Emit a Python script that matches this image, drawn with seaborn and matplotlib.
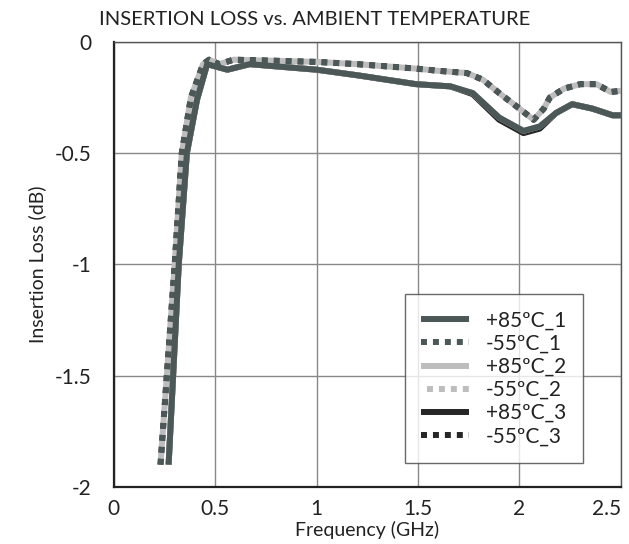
import matplotlib
matplotlib.use("Agg")
import matplotlib.pyplot as plt
import seaborn as sns
import pandas as pd

sns.set_style("white")
plt.rcParams['font.family'] = ['Lato', 'DejaVu Sans']

# Frequency grids (GHz)
freq_hot = [0.27, 0.32, 0.36, 0.41, 0.46, 0.50, 0.56, 0.67, 0.80, 1.00, 1.20, 1.49,
            1.66, 1.77, 1.90, 2.02, 2.10, 2.18, 2.26, 2.36, 2.46, 2.50]
freq_cold = [0.23, 0.30, 0.335, 0.38, 0.44, 0.47, 0.52, 0.59, 0.80, 1.00, 1.20, 1.49,
             1.60, 1.74, 1.82, 1.90, 2.00, 2.07, 2.12, 2.15, 2.22, 2.30, 2.38, 2.45, 2.50]

# Insertion loss (dB)
hot_1 = [-1.90, -1.00, -0.50, -0.26, -0.10, -0.11, -0.125, -0.10, -0.11, -0.125, -0.15, -0.19,
         -0.20, -0.23, -0.34, -0.40, -0.38, -0.32, -0.28, -0.30, -0.33, -0.33]
hot_2 = [-1.90, -1.00, -0.50, -0.26, -0.10, -0.11, -0.125, -0.10, -0.11, -0.125, -0.15, -0.19,
         -0.20, -0.23, -0.34, -0.40, -0.38, -0.32, -0.28, -0.30, -0.33, -0.33]
hot_3 = [-1.90, -1.00, -0.50, -0.26, -0.10, -0.11, -0.125, -0.10, -0.11, -0.125, -0.15, -0.19,
         -0.20, -0.235, -0.35, -0.41, -0.39, -0.32, -0.28, -0.30, -0.33, -0.33]
cold_1 = [-1.90, -1.00, -0.50, -0.25, -0.10, -0.08, -0.10, -0.08, -0.085, -0.09, -0.10, -0.12,
          -0.13, -0.14, -0.17, -0.23, -0.30, -0.35, -0.30, -0.25, -0.21, -0.19, -0.19, -0.225, -0.22]
cold_2 = [-1.90, -1.00, -0.50, -0.25, -0.10, -0.08, -0.10, -0.08, -0.085, -0.09, -0.10, -0.12,
          -0.13, -0.14, -0.17, -0.23, -0.30, -0.35, -0.30, -0.25, -0.21, -0.19, -0.19, -0.225, -0.22]
cold_3 = [-1.90, -1.00, -0.50, -0.25, -0.10, -0.08, -0.10, -0.08, -0.085, -0.09, -0.10, -0.12,
          -0.13, -0.14, -0.17, -0.23, -0.30, -0.35, -0.30, -0.25, -0.21, -0.19, -0.19, -0.225, -0.22]

labels = ['+85ºC_1', '-55ºC_1', '+85ºC_2', '-55ºC_2', '+85ºC_3', '-55ºC_3']
series = [(freq_hot, hot_1), (freq_cold, cold_1), (freq_hot, hot_2),
          (freq_cold, cold_2), (freq_hot, hot_3), (freq_cold, cold_3)]
colors = ['#4c5858', '#4c5858', '#bdbdbd', '#bdbdbd', '#262626', '#262626']
dashed = [False, True, False, True, False, True]
x_ticks = [0, 0.5, 1, 1.5, 2, 2.5]
x_ticklabels = ['0', '0.5', '1', '1.5', '2', '2.5']
y_ticks = [0, -0.5, -1, -1.5, -2]
y_ticklabels = ['0', '-0.5', '-1', '-1.5', '-2']

fig = plt.figure(figsize=(6.29, 5.44), dpi=100)
ax = fig.add_axes([0.181, 0.105, 0.806, 0.818])

# draw order: 3, 2, 1 so that series 1 is on top
order = [4, 5, 2, 3, 0, 1]
lines = {}
for i in order:
    xs, ys = series[i]
    df = pd.DataFrame({'f': xs, 'il': ys})
    sns.lineplot(data=df, x='f', y='il', ax=ax, color=colors[i], lw=4.3,
                 estimator=None, sort=False, label=labels[i])
    ln = ax.get_lines()[-1]
    ln.set_solid_capstyle('butt')
    if dashed[i]:
        off = {1: 0.0, 3: 1.0, 5: 0.0}[i]
        ln.set_linestyle((off, (1.0, 1.0)))
        ln.set_dash_capstyle('butt')
    lines[i] = ln

ax.set_xlim(0, 2.5)
ax.set_ylim(-2, 0)
ax.set_xticks(x_ticks)
ax.set_xticklabels(x_ticklabels, fontsize=15, color='#222222')
ax.set_yticks(y_ticks)
ax.set_yticklabels(y_ticklabels, fontsize=15, color='#222222')
ax.tick_params(axis='x', length=0, pad=9)
ax.tick_params(axis='y', length=0, pad=16)
xt = ax.get_xticklabels()
xt[-1].set_ha('right')
xt[-1].set_x(2.55)
ax.grid(True, color='#888888', lw=1.0)
for s in ['top', 'right']:
    ax.spines[s].set_color('#555555')
    ax.spines[s].set_linewidth(1.0)
for s in ['left', 'bottom']:
    ax.spines[s].set_color('#222222')
    ax.spines[s].set_linewidth(1.6)

ax.set_xlabel('Frequency (GHz)', fontsize=14, color='#222222', labelpad=1)
ax.set_ylabel('Insertion Loss (dB)', fontsize=14, color='#222222', labelpad=6)
fig.text(0.5, 0.965, 'INSERTION LOSS vs. AMBIENT TEMPERATURE', ha='center', va='center',
         fontsize=14.5, color='#222222')

handles = [lines[i] for i in range(6)]
leg = ax.legend(handles, labels, loc='lower right', bbox_to_anchor=(0.925, 0.054),
                borderaxespad=0,
                fontsize=15, frameon=True, fancybox=False, edgecolor='#444444',
                handlelength=2.3, labelspacing=0.15, borderpad=0.8, handletextpad=0.8)
leg.get_frame().set_linewidth(1.0)
for t in leg.get_texts():
    t.set_color('#222222')

fig.savefig('out.png', dpi=100)
